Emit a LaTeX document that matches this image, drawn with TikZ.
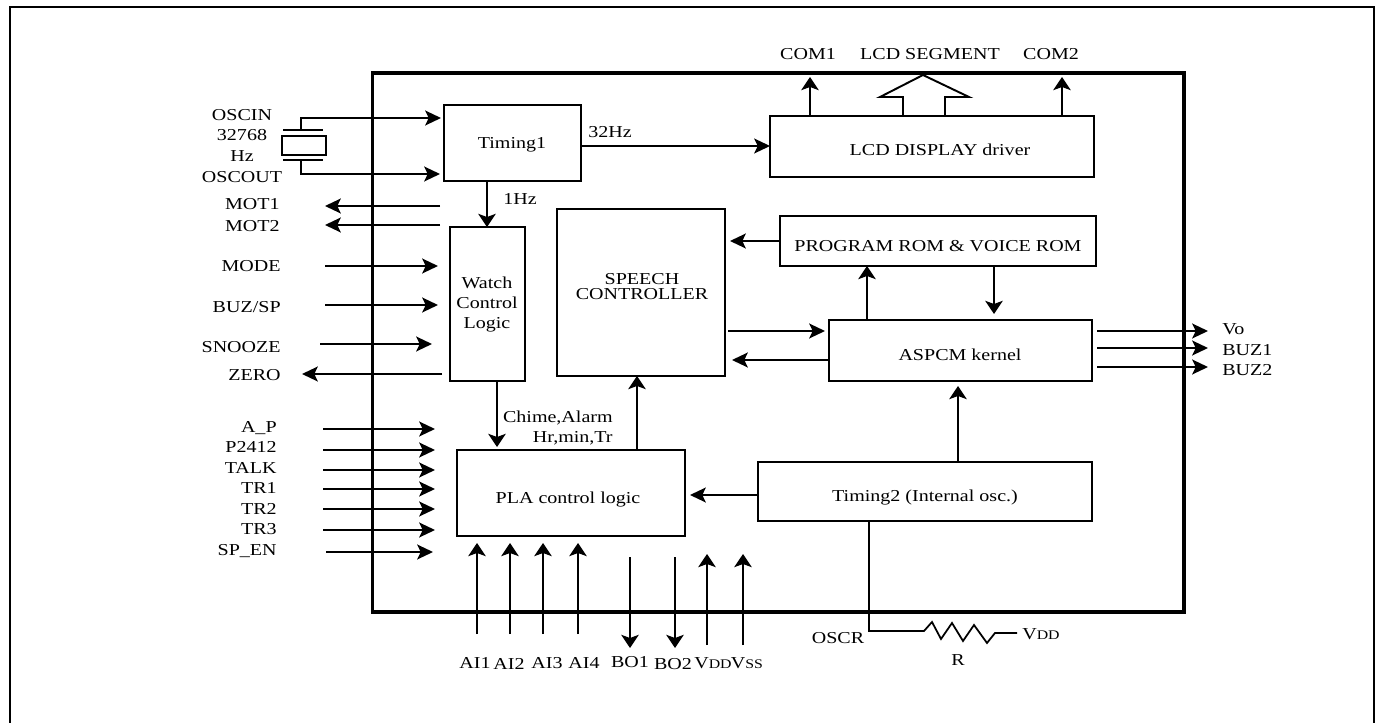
\documentclass[tikz,border=0pt]{standalone}
\usepackage{fontspec}
\setmainfont[FakeStretch=1.2]{Liberation Serif}
\usetikzlibrary{arrows.meta}
\tikzset{
  chipbox/.style={draw, line width=1.8pt, minimum width=16.24cm, minimum height=10.78cm, inner sep=0pt, outer sep=0pt},
  blockbox/.style={draw, line width=1.25pt, inner sep=0pt, outer sep=0pt},
  pinlabel/.style={inner sep=0pt, text height=6.3pt, text depth=0pt, font=\fontsize{9.5}{11}\selectfont},
  sigh/.style={line width=1pt, -{Stealth[length=9pt,width=8.5pt,inset=2pt]}},
  sigv/.style={line width=1pt, -{Stealth[length=7.5pt,width=10pt,inset=1.8pt]}},
  wire/.style={line width=1pt}
}
\newcommand{\smallsub}[1]{{\fontsize{7.5}{9}\selectfont #1}}
\begin{document}
\begin{tikzpicture}[x=0.02cm,y=-0.02cm]
    \useasboundingbox (0,0) rectangle (1377,723);
    % frame and chip outline
    \coordinate (framebl) at (10,723);
    \coordinate (frametl) at (10,7);
    \coordinate (frametr) at (1374,7);
    \coordinate (framebr) at (1374,723);
    \draw[line width=1.5pt] (framebl) -- (frametl) -- (frametr) -- (framebr);
    \node[chipbox] (chip) at (778,342.5) {};

    % Draw the blocks
    \node[blockbox, minimum width=2.74cm, minimum height=1.52cm] (timingone) at (512.5,143) {};
    \node[blockbox, minimum width=6.48cm, minimum height=1.22cm] (lcd) at (932,146.5) {};
    \node[blockbox, minimum width=1.5cm, minimum height=3.08cm] (watch) at (487.5,304) {};
    \node[blockbox, minimum width=3.36cm, minimum height=3.34cm] (speech) at (641,292.5) {};
    \node[blockbox, minimum width=6.32cm, minimum height=1cm] (rom) at (938,241) {};
    \node[blockbox, minimum width=5.26cm, minimum height=1.22cm] (aspcm) at (960.5,350.5) {};
    \node[blockbox, minimum width=4.56cm, minimum height=1.72cm] (pla) at (571,493) {};
    \node[blockbox, minimum width=6.68cm, minimum height=1.18cm] (timingtwo) at (925,491.5) {};

    % block texts
    \node[pinlabel] (timingonetext) at (512,143) {Timing1};
    \node[pinlabel] (lcdtext) at (940,150) {LCD DISPLAY driver};
    \node[pinlabel] (watchtext) at (487,283) {Watch};
    \node[pinlabel] (controltext) at (487,303) {Control};
    \node[pinlabel] (logictext) at (487,323) {Logic};
    \node[pinlabel] (speechtext) at (642,279) {SPEECH};
    \node[pinlabel] (controllertext) at (642,294) {CONTROLLER};
    \node[pinlabel] (romtext) at (938,246) {PROGRAM ROM \& VOICE ROM};
    \node[pinlabel] (aspcmtext) at (960,355) {ASPCM kernel};
    \node[pinlabel] (platext) at (568,498) {PLA control logic};
    \node[pinlabel] (timingtwotext) at (925,496) {Timing2 (Internal osc.)};

    % left side labels
    \node[pinlabel] (oscin) at (242,115) {OSCIN};
    \node[pinlabel] (freq) at (242,135) {32768};
    \node[pinlabel] (hz) at (242,156) {Hz};
    \node[pinlabel] (oscout) at (242,177) {OSCOUT};
    \node[pinlabel, anchor=east] (motone) at (280,204) {MOT1};
    \node[pinlabel, anchor=east] (mottwo) at (280,226) {MOT2};
    \node[pinlabel, anchor=east] (mode) at (281,266) {MODE};
    \node[pinlabel, anchor=east] (buzsp) at (281,307) {BUZ/SP};
    \node[pinlabel, anchor=east] (snooze) at (281,347) {SNOOZE};
    \node[pinlabel, anchor=east] (zero) at (281,375) {ZERO};
    \node[pinlabel, anchor=east] (ap) at (277,427) {A\_P};
    \node[pinlabel, anchor=east] (ptf) at (277,447) {P2412};
    \node[pinlabel, anchor=east] (talk) at (277,468) {TALK};
    \node[pinlabel, anchor=east] (trone) at (277,488) {TR1};
    \node[pinlabel, anchor=east] (trtwo) at (277,509) {TR2};
    \node[pinlabel, anchor=east] (trthree) at (277,529) {TR3};
    \node[pinlabel, anchor=east] (spen) at (277,550) {SP\_EN};

    % top and right labels
    \node[pinlabel] (comone) at (808,54) {COM1};
    \node[pinlabel] (segment) at (930,54) {LCD SEGMENT};
    \node[pinlabel] (comtwo) at (1051,54) {COM2};
    \node[pinlabel, anchor=west] (vo) at (1222,329) {Vo};
    \node[pinlabel, anchor=west] (buzone) at (1222,350) {BUZ1};
    \node[pinlabel, anchor=west] (buztwo) at (1222,370) {BUZ2};

    % bottom labels
    \node[pinlabel] (aione) at (475,663) {AI1};
    \node[pinlabel] (aitwo) at (509,664) {AI2};
    \node[pinlabel] (aithree) at (547,663) {AI3};
    \node[pinlabel] (aifour) at (584,663) {AI4};
    \node[pinlabel] (boone) at (630,662) {BO1};
    \node[pinlabel] (botwo) at (673,664) {BO2};
    \node[pinlabel] (vdd) at (713,663) {V\smallsub{DD}};
    \node[pinlabel] (vss) at (747,663) {V\smallsub{SS}};
    \node[pinlabel] (oscr) at (838,638) {OSCR};
    \node[pinlabel] (rname) at (958,660) {R};
    \node[pinlabel] (vddr) at (1041,634) {V\smallsub{DD}};

    % inner labels
    \node[pinlabel] (onehz) at (520,199) {1Hz};
    \node[pinlabel] (thirtytwo) at (610,132) {32Hz};
    \node[pinlabel, anchor=east] (chime) at (613,417) {Chime,Alarm};
    \node[pinlabel, anchor=east] (hrmin) at (613,437) {Hr,min,Tr};

    % crystal
    \node[draw, line width=1.2pt, minimum width=0.88cm, minimum height=0.38cm, inner sep=0pt, outer sep=0pt] (crystal) at (304,145.5) {};
    \coordinate (platetopl) at (283,130);
    \coordinate (platetopr) at (323,130);
    \coordinate (platebotl) at (283,160);
    \coordinate (platebotr) at (323,160);
    \coordinate (oscintop) at (301,130);
    \coordinate (oscinbend) at (301,118);
    \coordinate (oscinend) at (441,118);
    \coordinate (oscoutbot) at (301,160);
    \coordinate (oscoutbend) at (301,174);
    \coordinate (oscoutend) at (440,174);
    \draw[wire] (platetopl) -- (platetopr);
    \draw[wire] (platebotl) -- (platebotr);
    \draw[sigh] (oscintop) -- (oscinbend) -- (oscinend);
    \draw[sigh] (oscoutbot) -- (oscoutbend) -- (oscoutend);

    % left side arrows
    \coordinate (motonefrom) at (440,206);
    \coordinate (motoneto) at (325,206);
    \coordinate (mottwofrom) at (440,225);
    \coordinate (mottwoto) at (325,225);
    \coordinate (modefrom) at (325,266);
    \coordinate (modeto) at (438,266);
    \coordinate (buzspfrom) at (325,305);
    \coordinate (buzspto) at (438,305);
    \coordinate (snoozefrom) at (320,344);
    \coordinate (snoozeto) at (432,344);
    \coordinate (zerofrom) at (442,374);
    \coordinate (zeroto) at (302,374);
    \coordinate (apfrom) at (323,429);
    \coordinate (apto) at (435,429);
    \coordinate (ptffrom) at (323,450);
    \coordinate (ptfto) at (435,450);
    \coordinate (talkfrom) at (323,470);
    \coordinate (talkto) at (435,470);
    \coordinate (tronefrom) at (323,489);
    \coordinate (troneto) at (435,489);
    \coordinate (trtwofrom) at (323,509);
    \coordinate (trtwoto) at (435,509);
    \coordinate (trthreefrom) at (323,530);
    \coordinate (trthreeto) at (435,530);
    \coordinate (spenfrom) at (326,552);
    \coordinate (spento) at (433,552);
    \draw[sigh] (motonefrom) -- (motoneto);
    \draw[sigh] (mottwofrom) -- (mottwoto);
    \draw[sigh] (modefrom) -- (modeto);
    \draw[sigh] (buzspfrom) -- (buzspto);
    \draw[sigh] (snoozefrom) -- (snoozeto);
    \draw[sigh] (zerofrom) -- (zeroto);
    \draw[sigh] (apfrom) -- (apto);
    \draw[sigh] (ptffrom) -- (ptfto);
    \draw[sigh] (talkfrom) -- (talkto);
    \draw[sigh] (tronefrom) -- (troneto);
    \draw[sigh] (trtwofrom) -- (trtwoto);
    \draw[sigh] (trthreefrom) -- (trthreeto);
    \draw[sigh] (spenfrom) -- (spento);

    % arrows between the blocks
    \coordinate (hzline) at (487,143);
    \coordinate (hzrow) at (600,146);
    \coordinate (chimeline) at (497,400);
    \coordinate (speechin) at (637,400);
    \coordinate (romrow) at (760,241);
    \coordinate (romupx) at (867,290);
    \coordinate (romdownx) at (994,290);
    \coordinate (romdownto) at (994,314);
    \coordinate (speechoutfrom) at (728,331);
    \coordinate (speechoutto) at (825,331);
    \coordinate (speechinfrom) at (829,360);
    \coordinate (speechinto) at (732,360);
    \coordinate (romarrowto) at (730,241);
    \coordinate (timingup) at (958,430);
    \coordinate (timingupto) at (958,386);
    \coordinate (timingrow) at (720,495);
    \coordinate (timingleftto) at (690,495);
    \coordinate (chimeto) at (497,447);
    \draw[sigv] (hzline |- timingone.south) -- (hzline |- watch.north);
    \draw[sigh] (hzrow -| timingone.east) -- (hzrow -| lcd.west);
    \draw[sigv] (chimeline |- watch.south) -- (chimeto);
    \draw[sigv] (speechin |- pla.north) -- (speechin |- speech.south);
    \draw[sigh] (romrow -| rom.west) -- (romarrowto);
    \draw[sigv] (romupx |- aspcm.north) -- (romupx |- rom.south);
    \draw[sigv] (romdownx |- rom.south) -- (romdownto);
    \draw[sigh] (speechoutfrom) -- (speechoutto);
    \draw[sigh] (speechinfrom) -- (speechinto);
    \draw[sigv] (timingup |- timingtwo.north) -- (timingupto);
    \draw[sigh] (timingrow -| timingtwo.west) -- (timingleftto);

    % lcd outputs
    \coordinate (comonex) at (810,100);
    \coordinate (comoneto) at (810,77);
    \coordinate (comtwox) at (1062,100);
    \coordinate (comtwoto) at (1062,77);
    \draw[sigv] (comonex |- lcd.north) -- (comoneto);
    \draw[sigv] (comtwox |- lcd.north) -- (comtwoto);
    \draw[line width=1.1pt] (903,116) -- (903,97) -- (880,97) -- (923,75) -- (969,97) -- (945,97) -- (945,116);

    % right side arrows
    \coordinate (vofrom) at (1097,331);
    \coordinate (voto) at (1208,331);
    \coordinate (buzonefrom) at (1097,348);
    \coordinate (buzoneto) at (1208,348);
    \coordinate (buztwofrom) at (1097,367);
    \coordinate (buztwoto) at (1208,367);
    \draw[sigh] (vofrom) -- (voto);
    \draw[sigh] (buzonefrom) -- (buzoneto);
    \draw[sigh] (buztwofrom) -- (buztwoto);

    % bottom arrows
    \coordinate (aionefrom) at (477,634);
    \coordinate (aioneto) at (477,543);
    \coordinate (aitwofrom) at (510,634);
    \coordinate (aitwoto) at (510,543);
    \coordinate (aithreefrom) at (543,634);
    \coordinate (aithreeto) at (543,543);
    \coordinate (aifourfrom) at (578,634);
    \coordinate (aifourto) at (578,543);
    \coordinate (boonefrom) at (630,557);
    \coordinate (booneto) at (630,648);
    \coordinate (botwofrom) at (675,557);
    \coordinate (botwoto) at (675,648);
    \coordinate (vddfrom) at (707,645);
    \coordinate (vddto) at (707,554);
    \coordinate (vssfrom) at (743,645);
    \coordinate (vssto) at (743,554);
    \draw[sigv] (aionefrom) -- (aioneto);
    \draw[sigv] (aitwofrom) -- (aitwoto);
    \draw[sigv] (aithreefrom) -- (aithreeto);
    \draw[sigv] (aifourfrom) -- (aifourto);
    \draw[sigv] (boonefrom) -- (booneto);
    \draw[sigv] (botwofrom) -- (botwoto);
    \draw[sigv] (vddfrom) -- (vddto);
    \draw[sigv] (vssfrom) -- (vssto);

    % resistor
    \coordinate (oscrx) at (869,600);
    \coordinate (oscrbend) at (869,631);
    \draw[wire, line join=miter] (oscrx |- timingtwo.south) -- (oscrbend) -- (924,631) -- (932,622) -- (941,639) -- (952,623) -- (963,641) -- (974,625) -- (987,643) -- (995,633) -- (1017,633);
\end{tikzpicture}
\end{document}
